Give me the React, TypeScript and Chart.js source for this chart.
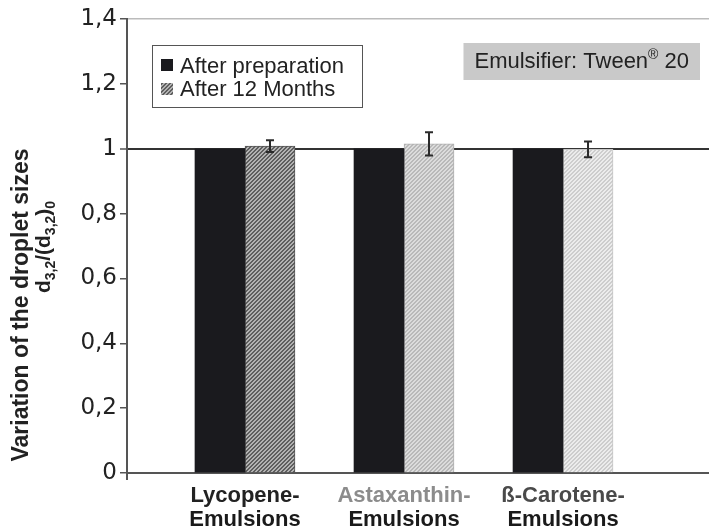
import React, { useEffect, useRef } from 'react';
import { Chart, registerables } from 'chart.js';

Chart.register(...registerables);

const categoryLine1 = ['Lycopene-', 'Astaxanthin-', 'ß-Carotene-'];
const categoryLine2 = ['Emulsions', 'Emulsions', 'Emulsions'];
const categoryColors = ['#222222', '#8c8c8c', '#4a4a4a'];
const categoryPositions = [1, 2, 3];
const seriesLabels = ['After preparation', 'After 12 Months'];
const afterPreparation = [1, 1, 1];
const after12Months = [1.008, 1.015, 0.998];
const after12MonthsError = [0.018, 0.036, 0.024];
const yTickValues = [0, 0.2, 0.4, 0.6, 0.8, 1, 1.2, 1.4];
const yTickLabels = ['0', '0,2', '0,4', '0,6', '0,8', '1', '1,2', '1,4'];
const hatchDark = ['#5e5e5e', '#b9b9b9', '#cdcdcd'];
const hatchLight = ['#b2b2b2', '#dcdcdc', '#ececec'];
const hatchBorder = ['#555555', '#b0b0b0', '#c6c6c6'];

const FONT = 'Arial, "Liberation Sans", sans-serif';
const TICK_FONT = '"DejaVu Sans", Arial, sans-serif';

function makeHatch(dark: string, light: string): CanvasPattern | string {
  const c = document.createElement('canvas');
  c.width = 4;
  c.height = 4;
  const g = c.getContext('2d');
  if (!g) return dark;
  for (let x = 0; x < 4; x++) {
    for (let y = 0; y < 4; y++) {
      g.fillStyle = (x + y) % 4 < 2 ? dark : light;
      g.fillRect(x, y, 1, 1);
    }
  }
  return g.createPattern(c, 'repeat') || dark;
}

export default function App() {
  const ref = useRef<HTMLCanvasElement | null>(null);

  useEffect(() => {
    document.body.style.margin = '0';
    const canvas = ref.current;
    if (!canvas) return;
    const patterns = hatchDark.map((d, i) => makeHatch(d, hatchLight[i]));

    const overlay = {
      id: 'overlay',
      afterDatasetsDraw(chart: any) {
        const ctx = chart.ctx;
        const ys = chart.scales.y;
        const meta = chart.getDatasetMeta(1);
        ctx.save();
        ctx.strokeStyle = '#2a2a2a';
        ctx.lineWidth = 2;
        meta.data.forEach((bar: any, i: number) => {
          const v = after12Months[i];
          const e = after12MonthsError[i];
          const top = ys.getPixelForValue(v + e);
          const bot = ys.getPixelForValue(v - e);
          const x = bar.x;
          ctx.beginPath();
          ctx.moveTo(x, top);
          ctx.lineTo(x, bot);
          ctx.moveTo(x - 4, top);
          ctx.lineTo(x + 4, top);
          ctx.moveTo(x - 4, bot);
          ctx.lineTo(x + 4, bot);
          ctx.stroke();
        });
        ctx.restore();
      },
      afterDraw(chart: any) {
        const ctx = chart.ctx;
        const xs = chart.scales.x;
        const area = chart.chartArea;
        ctx.save();
        // y axis stub below the x axis
        ctx.strokeStyle = '#555555';
        ctx.lineWidth = 2;
        ctx.beginPath();
        ctx.moveTo(area.left, area.bottom);
        ctx.lineTo(area.left, area.bottom + 7);
        ctx.stroke();

        // x category labels
        ctx.textAlign = 'center';
        ctx.textBaseline = 'alphabetic';
        ctx.font = `bold 22px ${FONT}`;
        categoryPositions.forEach((p, i) => {
          const x = xs.getPixelForValue(p);
          ctx.fillStyle = categoryColors[i];
          ctx.fillText(categoryLine1[i], x, 502);
          ctx.fillStyle = '#1a1a1a';
          ctx.fillText(categoryLine2[i], x, 526);
        });

        // legend
        ctx.fillStyle = '#ffffff';
        ctx.fillRect(152, 45, 210, 62);
        ctx.strokeStyle = '#555555';
        ctx.lineWidth = 1;
        ctx.strokeRect(152.5, 45.5, 210, 62);
        ctx.fillStyle = '#1a1a1e';
        ctx.fillRect(161, 59, 12, 12);
        ctx.fillStyle = patterns[0] as any;
        ctx.fillRect(161, 83, 12, 12);
        ctx.fillStyle = '#222222';
        ctx.textAlign = 'left';
        ctx.font = `22px ${FONT}`;
        ctx.fillText(seriesLabels[0], 180, 73);
        ctx.fillText(seriesLabels[1], 180, 96);

        // emulsifier box
        const t1 = 'Emulsifier: Tween';
        const t2 = '®';
        const t3 = ' 20';
        ctx.font = `22px ${FONT}`;
        const w1 = ctx.measureText(t1).width;
        const w3 = ctx.measureText(t3).width;
        ctx.font = `14px ${FONT}`;
        const w2 = ctx.measureText(t2).width;
        const total = w1 + w2 + w3;
        let sx = 689 - total;
        ctx.fillStyle = '#c9c9c9';
        ctx.fillRect(sx - 11, 43, 700 - (sx - 11), 37);
        ctx.fillStyle = '#222222';
        ctx.font = `22px ${FONT}`;
        ctx.fillText(t1, sx, 68);
        sx += w1;
        ctx.font = `14px ${FONT}`;
        ctx.fillText(t2, sx, 59);
        sx += w2;
        ctx.font = `22px ${FONT}`;
        ctx.fillText(t3, sx, 68);

        // y axis title
        ctx.fillStyle = '#222222';
        ctx.save();
        ctx.translate(28, 305);
        ctx.rotate(-Math.PI / 2);
        ctx.textAlign = 'center';
        ctx.font = `bold 23px ${FONT}`;
        ctx.fillText('Variation of the droplet sizes', 0, 0);
        ctx.restore();

        const parts: [string, boolean][] = [
          ['d', false], ['3,2', true], ['/(d', false], ['3,2', true], [')', false], ['0', true],
        ];
        const big = `bold 21px ${FONT}`;
        const small = `bold 14px ${FONT}`;
        let tw = 0;
        parts.forEach(([s, sub]) => {
          ctx.font = sub ? small : big;
          tw += ctx.measureText(s).width;
        });
        ctx.save();
        ctx.translate(50, 247);
        ctx.rotate(-Math.PI / 2);
        ctx.textAlign = 'left';
        let px = -tw / 2;
        parts.forEach(([s, sub]) => {
          ctx.font = sub ? small : big;
          ctx.fillText(s, px, sub ? 5 : 0);
          px += ctx.measureText(s).width;
        });
        ctx.restore();
        ctx.restore();
      },
    };

    const chart = new Chart(canvas, {
      type: 'bar',
      data: {
        datasets: [
          {
            label: seriesLabels[0],
            data: categoryPositions.map((p, i) => ({ x: p, y: afterPreparation[i] })),
            backgroundColor: '#1a1a1e',
            borderWidth: 0,
            barThickness: 50,
          },
          {
            label: seriesLabels[1],
            data: categoryPositions.map((p, i) => ({ x: p, y: after12Months[i] })),
            backgroundColor: patterns as any,
            borderColor: hatchBorder,
            borderWidth: 1,
            barThickness: 50,
          },
        ],
      },
      options: {
        animation: false,
        responsive: false,
        maintainAspectRatio: false,
        layout: { padding: { top: 19, right: 0, left: 0, bottom: 0 } },
        plugins: {
          legend: { display: false },
          tooltip: { enabled: false },
        },
        scales: {
          x: {
            type: 'linear',
            offset: false,
            min: 0.258,
            max: 3.918,
            grid: { display: false, drawTicks: false },
            border: { color: '#555555', width: 2 },
            ticks: { display: false },
            afterBuildTicks: (s: any) => {
              s.ticks = categoryPositions.map((v) => ({ value: v }));
            },
            afterFit: (s: any) => {
              s.height = 54;
            },
          },
          y: {
            min: 0,
            max: 1.4,
            afterBuildTicks: (s: any) => {
              s.ticks = yTickValues.map((v) => ({ value: v }));
            },
            ticks: {
              callback: (_v: any, i: number) => yTickLabels[i],
              color: '#222222',
              font: { family: TICK_FONT, size: 23 },
              padding: 3,
            },
            grid: {
              color: (c: any) => {
                const v = c.tick ? c.tick.value : null;
                if (v === 1.4) return '#bbbbbb';
                if (v === 1) return '#333333';
                return 'rgba(0,0,0,0)';
              },
              lineWidth: (c: any) => (c.tick && c.tick.value === 1 ? 2 : 1.5),
              tickColor: '#555555',
              tickLength: 7,
              tickWidth: 1.5,
            },
            border: { color: '#555555', width: 2 },
            afterFit: (s: any) => {
              s.width = 127;
            },
          },
        },
      },
      plugins: [overlay],
    } as any);

    return () => chart.destroy();
  }, []);

  return (
    <div style={{ width: 709, height: 527 }}>
      <canvas ref={ref} width={709} height={527} style={{ display: 'block' }} />
    </div>
  );
}
